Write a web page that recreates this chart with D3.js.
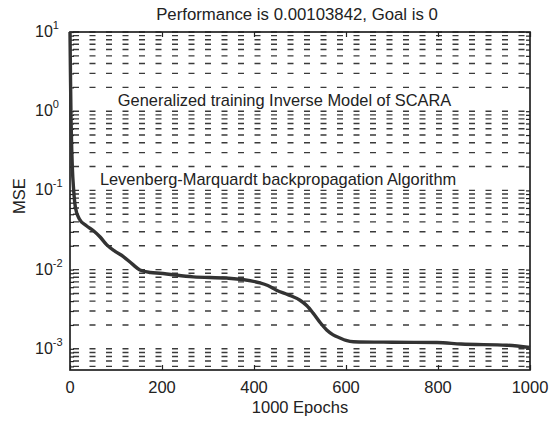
<!DOCTYPE html>
<html>
<head>
<meta charset="utf-8">
<script src="https://cdn.jsdelivr.net/npm/d3@7"></script>
<style>
  body { margin: 0; background: #fff; }
  svg text { font-family: "Liberation Sans", Arial, sans-serif; fill: #222; }
</style>
</head>
<body>
<div id="chart"></div>
<script>
// values (epoch, mse)
var epochs = [0, 1, 2, 3, 5, 8, 12, 20, 35, 51, 65, 80, 98, 116, 135, 152, 175, 196, 268, 341, 413, 430, 449, 475, 500, 515, 529, 545, 558, 572, 587, 600, 616, 700, 798, 850, 950, 1000];
var mse = [10, 3, 1, 0.5, 0.2, 0.1, 0.06, 0.044, 0.036, 0.031, 0.026, 0.0205, 0.017, 0.0146, 0.0118, 0.0099, 0.0092, 0.009, 0.0081, 0.0078, 0.0068, 0.0063, 0.0055, 0.0048, 0.0041, 0.0035, 0.0028, 0.0021, 0.00173, 0.0015, 0.00137, 0.00128, 0.00123, 0.00121, 0.0012, 0.00115, 0.00111, 0.00103842];

var xTicks = [0, 200, 400, 600, 800, 1000];
var yDecades = [-3, -2, -1, 0, 1];

var titleText = "Performance is 0.00103842, Goal is 0";
var xLabel = "1000 Epochs";
var yLabel = "MSE";
var notes = ["Generalized training Inverse Model of SCARA", "Levenberg-Marquardt backpropagation Algorithm"];
var noteValues = [1.16, 0.116]; // baseline of the notes in data units
var noteEpochs = [104, 65];

var width = 551, height = 422;
var plotL = 70, plotR = 530, plotT = 32, plotB = 370;

var svg = d3.select("#chart").append("svg")
    .attr("width", width)
    .attr("height", height);

var x = d3.scaleLinear().domain([0, 1000]).range([plotL, plotR]);
var y = d3.scaleLog().domain([5.4e-4, 10]).range([plotB, plotT]);

// all gridline values: decades and their 2..9 multiples inside the domain
var gridVals = [];
for (var e = -4; e <= 1; e++) {
    for (var m = 1; m <= 9; m++) {
        var v = m * Math.pow(10, e);
        if (v >= y.domain()[0] && v <= y.domain()[1]) gridVals.push(v);
    }
}

svg.append("g")
    .selectAll("line")
    .data(gridVals)
    .enter().append("line")
    .attr("x1", plotL + 3)
    .attr("x2", plotR)
    .attr("y1", function (d) { return y(d); })
    .attr("y2", function (d) { return y(d); })
    .attr("stroke", "#3a3a3a")
    .attr("stroke-width", 1.4)
    .attr("stroke-dasharray", "6,10.5");

// inward ticks on all four sides
svg.append("g")
    .attr("transform", "translate(" + plotL + ",0)")
    .call(d3.axisLeft(y).tickValues(gridVals).tickSize(-4).tickFormat(""))
    .call(function (g) { g.select(".domain").remove(); });
svg.append("g")
    .attr("transform", "translate(" + plotR + ",0)")
    .call(d3.axisRight(y).tickValues(gridVals).tickSize(-4).tickFormat(""))
    .call(function (g) { g.select(".domain").remove(); });
svg.append("g")
    .attr("transform", "translate(0," + plotB + ")")
    .call(d3.axisBottom(x).tickValues(xTicks).tickSize(-5).tickFormat(""))
    .call(function (g) { g.select(".domain").remove(); });
svg.append("g")
    .attr("transform", "translate(0," + plotT + ")")
    .call(d3.axisTop(x).tickValues(xTicks).tickSize(-5).tickFormat(""))
    .call(function (g) { g.select(".domain").remove(); });
svg.selectAll(".tick line").attr("stroke", "#222").attr("stroke-width", 1.2);

// frame
svg.append("rect")
    .attr("x", plotL)
    .attr("y", plotT)
    .attr("width", plotR - plotL)
    .attr("height", plotB - plotT)
    .attr("fill", "none")
    .attr("stroke", "#222")
    .attr("stroke-width", 1.7);

// training curve
var line = d3.line()
    .x(function (d, i) { return x(epochs[i]); })
    .y(function (d) { return y(d); })
    .curve(d3.curveMonotoneX);

svg.append("path")
    .datum(mse)
    .attr("d", line)
    .attr("fill", "none")
    .attr("stroke", "#333")
    .attr("stroke-width", 3.4)
    .attr("stroke-linejoin", "round");

// x tick labels
svg.append("g")
    .selectAll("text")
    .data(xTicks)
    .enter().append("text")
    .attr("x", function (d) { return x(d); })
    .attr("y", 393)
    .attr("text-anchor", "middle")
    .style("font-size", "16.5px")
    .text(function (d) { return d; });

// y tick labels 10^n ("10" starts at a fixed x, exponent hangs to the right)
var yl = svg.append("g")
    .selectAll("text")
    .data(yDecades)
    .enter().append("text")
    .attr("x", 35)
    .attr("y", function (d) { return y(Math.pow(10, d)) + 5; })
    .style("font-size", "16px");
yl.append("tspan").text("10");
yl.append("tspan")
    .attr("dy", -8)
    .style("font-size", "11px")
    .text(function (d) { return d; });

// titles
svg.append("text")
    .attr("x", 297)
    .attr("y", 20)
    .attr("text-anchor", "middle")
    .style("font-size", "16.8px")
    .text(titleText);

svg.append("text")
    .attr("x", 300)
    .attr("y", 413)
    .attr("text-anchor", "middle")
    .style("font-size", "16.5px")
    .text(xLabel);

svg.append("text")
    .attr("transform", "translate(25,196) rotate(-90)")
    .attr("text-anchor", "middle")
    .style("font-size", "16.5px")
    .text(yLabel);

// notes inside the plot
svg.append("g")
    .selectAll("text")
    .data(notes)
    .enter().append("text")
    .attr("x", function (d, i) { return x(noteEpochs[i]); })
    .attr("y", function (d, i) { return y(noteValues[i]); })
    .style("font-size", "16.4px")
    .text(function (d) { return d; });
</script>
</body>
</html>
